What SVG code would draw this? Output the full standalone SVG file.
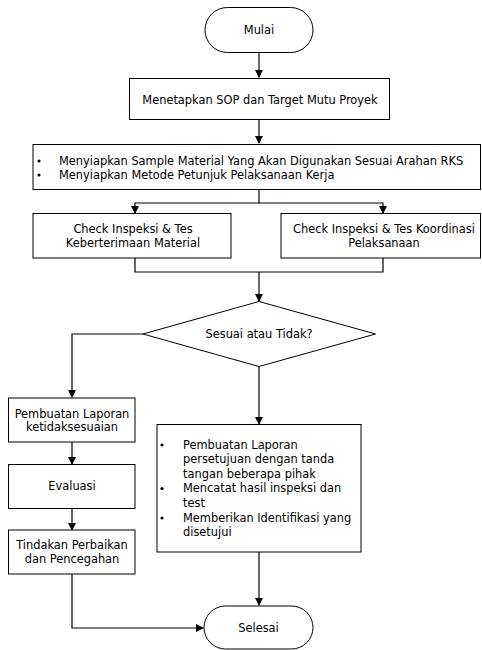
<svg xmlns="http://www.w3.org/2000/svg" width="482" height="650" viewBox="0 0 482 650">
<defs>
<marker id="ah" markerWidth="8" markerHeight="8" refX="7" refY="4" orient="auto" markerUnits="userSpaceOnUse">
<path d="M0,0 L8,4 L0,8 Z" fill="#000"/>
</marker>
<style>
.s{fill:#fff;stroke:#000;stroke-width:1}
.t{font-family:"DejaVu Sans","Liberation Sans",sans-serif;font-size:11.4px;fill:#000}
.c{text-anchor:middle}
.l{fill:none;stroke:#000;stroke-width:1.2}
</style>
</defs>
<rect width="482" height="650" fill="#fff"/>
<g id="connectors">
<path class="l" d="M259,52 V77" marker-end="url(#ah)"/>
<path class="l" d="M259,119 V143" marker-end="url(#ah)"/>
<path class="l" d="M259,189 V203 H135 V213" marker-end="url(#ah)"/>
<path class="l" d="M259,203 H383 V213" marker-end="url(#ah)"/>
<path class="l" d="M135,258 V272 H383 V258"/>
<path class="l" d="M259,272 V301" marker-end="url(#ah)"/>
<path class="l" d="M143,334 H72 V397" marker-end="url(#ah)"/>
<path class="l" d="M259,367 V424" marker-end="url(#ah)"/>
<path class="l" d="M72,442 V464" marker-end="url(#ah)"/>
<path class="l" d="M72,509 V530" marker-end="url(#ah)"/>
<path class="l" d="M72,574 V628 H203" marker-end="url(#ah)"/>
<path class="l" d="M259,552 V605" marker-end="url(#ah)"/>
</g>
<g id="mulai">
<rect class="s" x="205" y="7.5" width="108" height="45" rx="22.5"/>
<text class="t c" x="259" y="34">Mulai</text>
</g>
<g id="sop">
<rect class="s" x="129.5" y="78.5" width="260" height="41"/>
<text class="t c" x="260" y="103.5">Menetapkan SOP dan Target Mutu Proyek</text>
</g>
<g id="persiapan">
<rect class="s" x="33" y="144.5" width="447.5" height="45"/>
<circle cx="39" cy="161" r="1.6"/>
<circle cx="39" cy="175" r="1.6"/>
<text class="t" x="59" y="164.5">Menyiapkan Sample Material Yang Akan Digunakan Sesuai Arahan RKS</text>
<text class="t" x="59" y="178.5">Menyiapkan Metode Petunjuk Pelaksanaan Kerja</text>
</g>
<g id="cek-material">
<rect class="s" x="33" y="213.5" width="198" height="44.5"/>
<text class="t c" x="133" y="232.5">Check Inspeksi &amp; Tes</text>
<text class="t c" x="133" y="246.5">Keberterimaan Material</text>
</g>
<g id="cek-koordinasi">
<rect class="s" x="281" y="213.5" width="199.5" height="44.5"/>
<text class="t c" x="384" y="232.5">Check Inspeksi &amp; Tes Koordinasi</text>
<text class="t c" x="384" y="246.5">Pelaksanaan</text>
</g>
<g id="keputusan">
<polygon class="s" points="259,301.5 375.5,334 259,366.5 143,334"/>
<text class="t c" x="259" y="337.5">Sesuai atau Tidak?</text>
</g>
<g id="laporan-tidak">
<rect class="s" x="8.5" y="398" width="126.5" height="44"/>
<text class="t c" x="72" y="417.5">Pembuatan Laporan</text>
<text class="t c" x="72" y="431">ketidaksesuaian</text>
</g>
<g id="evaluasi">
<rect class="s" x="8.5" y="464.5" width="126.5" height="44"/>
<text class="t c" x="72" y="490">Evaluasi</text>
</g>
<g id="tindakan">
<rect class="s" x="8.5" y="530" width="126.5" height="44"/>
<text class="t c" x="72" y="548.5">Tindakan Perbaikan</text>
<text class="t c" x="72" y="562.5">dan Pencegahan</text>
</g>
<g id="laporan-setuju">
<rect class="s" x="157" y="424.5" width="204" height="127.5"/>
<circle cx="162" cy="445" r="1.6"/>
<circle cx="162" cy="488.5" r="1.6"/>
<circle cx="162" cy="518" r="1.6"/>
<text class="t" x="183" y="448.5">Pembuatan Laporan</text>
<text class="t" x="183" y="463">persetujuan dengan tanda</text>
<text class="t" x="183" y="477.5">tangan beberapa pihak</text>
<text class="t" x="183" y="492">Mencatat hasil inspeksi dan</text>
<text class="t" x="183" y="506.5">test</text>
<text class="t" x="183" y="521.5">Memberikan Identifikasi yang</text>
<text class="t" x="183" y="535.5">disetujui</text>
</g>
<g id="selesai">
<rect class="s" x="204" y="606" width="109" height="43" rx="21.5"/>
<text class="t c" x="258.5" y="631.5">Selesai</text>
</g>
</svg>
